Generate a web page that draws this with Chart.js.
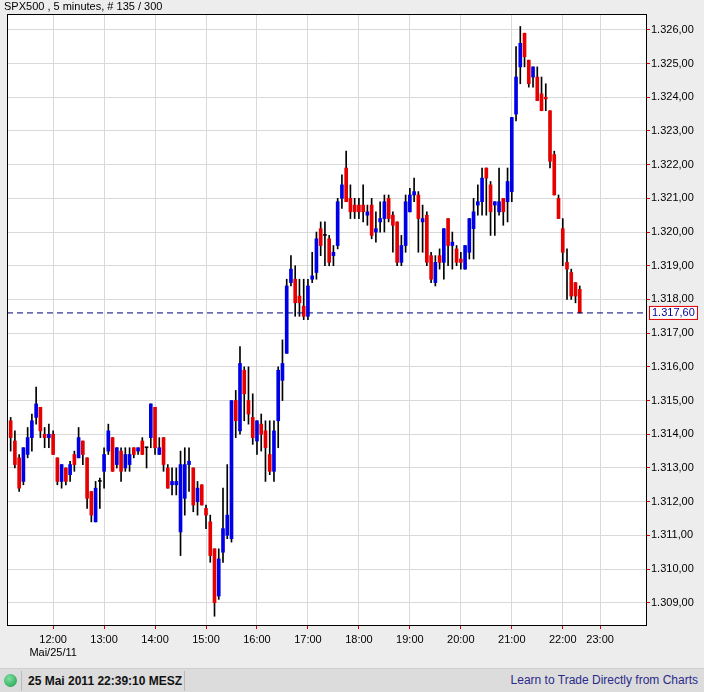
<!DOCTYPE html>
<html><head><meta charset="utf-8">
<script src="https://cdn.jsdelivr.net/npm/chart.js@4"></script>
<style>
body{margin:0;background:#ededed;font-family:"Liberation Sans",Arial,sans-serif;width:704px;height:692px;overflow:hidden;position:relative}
#wrap{position:absolute;left:0;top:0;width:704px;height:668px}
#title{position:absolute;left:4px;top:0px;font-size:11px;color:#000}
#bar{position:absolute;left:0;top:668px;width:704px;height:24px;background:#dcdcdc;border-top:1px solid #cfcfcf}
#dot{position:absolute;left:4px;top:5px;width:13px;height:13px;border-radius:50%;background:radial-gradient(circle at 40% 35%,#7fe0a0,#1a9a4a)}
#sep{position:absolute;left:21px;top:2px;width:1px;height:20px;background:#bbb}
#date{position:absolute;left:28px;top:5px;font-size:12px;font-weight:bold;color:#111}
#sep2{position:absolute;left:184px;top:2px;width:1px;height:20px;background:#bbb}
#learn{position:absolute;right:6px;top:4px;font-size:12px;color:#2a2a8a}
</style></head><body>
<div id="wrap"><canvas id="c" width="704" height="668"></canvas></div>
<div id="title">SPX500 , 5 minutes, # 135 / 300</div>
<div id="bar"><div id="dot"></div><div id="sep"></div><div id="date">25 Mai 2011 22:39:10 MESZ</div><div id="sep2"></div><div id="learn">Learn to Trade Directly from Charts</div></div>
<script>
const startMinute = 670; // 11:10
const stepMinutes = 5;
const opens = [1314.4,1313.8,1313.3,1312.6,1313.4,1313.9,1314.5,1314.8,1314.0,1313.9,1314.0,1313.3,1312.6,1313.0,1312.8,1313.4,1313.3,1313.8,1313.3,1312.3,1311.4,1312.6,1312.9,1313.5,1313.9,1313.1,1313.5,1313.0,1313.1,1313.6,1313.5,1313.8,1313.6,1313.9,1314.8,1313.4,1313.9,1313.0,1312.5,1312.5,1311.1,1312.1,1313.1,1313.0,1312.0,1312.5,1311.8,1311.4,1310.6,1309.2,1310.5,1311.0,1310.9,1315.0,1314.1,1315.9,1315.0,1314.5,1313.8,1314.3,1314.1,1313.4,1312.9,1314.4,1315.6,1316.4,1318.5,1318.6,1318.1,1317.8,1317.5,1318.6,1318.8,1320.1,1319.9,1319.8,1319.3,1319.6,1321.0,1321.9,1321.0,1320.8,1320.8,1320.8,1320.5,1320.8,1320.0,1320.3,1320.4,1321.0,1320.5,1320.3,1319.1,1319.6,1320.6,1321.1,1321.1,1320.3,1320.5,1319.3,1318.5,1319.3,1319.1,1320.4,1319.6,1319.5,1319.2,1318.9,1319.4,1320.1,1320.8,1320.9,1321.9,1321.4,1320.8,1320.6,1321.0,1320.9,1321.2,1323.5,1324.9,1325.9,1325.1,1324.6,1324.6,1324.1,1324.0,1323.6,1322.3,1321.0,1320.1,1319.1,1318.8,1318.5,1318.3];
const closes = [1313.9,1313.1,1312.4,1313.6,1313.9,1314.4,1314.9,1314.1,1313.9,1314.0,1313.4,1312.6,1313.1,1312.6,1313.1,1313.1,1313.9,1313.4,1312.1,1311.6,1312.4,1312.6,1313.4,1314.1,1312.9,1313.6,1312.9,1313.4,1313.4,1313.4,1313.6,1313.4,1313.6,1314.9,1313.6,1313.6,1313.1,1312.4,1312.6,1312.6,1313.1,1313.1,1313.2,1311.9,1312.4,1311.9,1311.6,1310.4,1309.0,1310.3,1311.2,1311.6,1315.0,1314.4,1316.1,1315.2,1314.6,1313.9,1314.4,1314.0,1313.6,1312.9,1314.1,1315.9,1316.1,1318.4,1318.9,1317.9,1317.9,1317.5,1318.4,1318.7,1319.8,1319.6,1319.9,1319.1,1319.4,1320.9,1321.4,1320.9,1320.6,1320.6,1320.6,1320.6,1320.6,1319.9,1320.1,1320.4,1320.9,1320.4,1320.2,1319.1,1319.6,1320.9,1321.1,1321.2,1320.4,1320.4,1319.1,1318.6,1319.1,1319.1,1320.1,1319.6,1319.7,1319.1,1319.1,1319.6,1320.4,1320.6,1320.9,1321.6,1321.6,1320.6,1320.9,1320.9,1320.6,1321.5,1323.4,1324.6,1325.6,1325.2,1324.4,1324.9,1323.9,1323.6,1323.95,1322.1,1321.1,1320.4,1319.4,1318.9,1318.1,1318.1,1317.6];
const highs = [1314.5,1314.1,1313.4,1313.6,1314.2,1314.6,1315.4,1314.8,1314.2,1314.3,1314.1,1313.3,1313.1,1313.0,1313.2,1313.5,1314.2,1313.8,1313.3,1312.3,1312.6,1312.7,1313.6,1314.3,1313.9,1313.6,1313.6,1313.6,1313.6,1313.6,1313.6,1313.9,1313.6,1314.9,1314.8,1313.9,1313.9,1313.1,1313.0,1313.0,1313.5,1313.6,1313.6,1313.0,1312.6,1312.5,1311.9,1311.6,1310.6,1310.6,1312.4,1313.1,1315.0,1315.3,1316.6,1316.0,1316.0,1315.2,1314.4,1314.6,1314.4,1314.4,1314.4,1316.0,1316.8,1318.6,1319.3,1319.0,1318.6,1318.6,1318.6,1319.4,1320.0,1320.3,1320.3,1319.9,1319.6,1321.0,1321.7,1322.4,1321.4,1321.0,1321.0,1321.4,1320.8,1321.0,1320.6,1320.9,1321.1,1321.1,1320.6,1320.3,1319.9,1321.1,1321.3,1321.6,1321.2,1320.8,1320.6,1319.4,1319.3,1319.5,1320.1,1320.4,1320.0,1319.6,1319.4,1319.6,1320.4,1321.0,1321.4,1321.9,1321.9,1321.5,1320.9,1321.9,1321.0,1321.9,1323.4,1325.5,1326.1,1325.9,1325.1,1324.9,1324.9,1324.6,1324.4,1323.6,1322.4,1321.1,1320.4,1319.5,1318.9,1318.5,1318.4];
const lows = [1313.5,1313.0,1312.3,1312.5,1313.3,1313.5,1314.3,1313.9,1313.6,1313.6,1313.4,1312.5,1312.4,1312.5,1312.6,1312.9,1313.3,1313.1,1311.8,1311.4,1311.4,1311.8,1312.4,1313.4,1312.9,1313.0,1312.6,1312.9,1312.9,1313.3,1313.4,1313.4,1313.0,1313.6,1313.4,1313.4,1312.9,1312.4,1312.2,1312.2,1310.4,1311.6,1312.3,1311.7,1311.6,1311.9,1311.2,1310.2,1308.6,1309.1,1310.2,1310.9,1310.8,1313.9,1314.0,1314.4,1314.3,1313.7,1313.4,1313.5,1312.6,1312.8,1312.6,1313.6,1315.0,1316.4,1318.4,1317.5,1317.5,1317.4,1317.4,1318.5,1318.6,1319.3,1319.0,1319.0,1319.0,1319.5,1320.7,1320.9,1320.4,1320.4,1320.4,1320.3,1320.2,1319.8,1319.7,1320.0,1320.0,1320.3,1319.4,1319.0,1319.0,1319.4,1320.6,1320.9,1319.4,1319.4,1319.0,1318.5,1318.4,1318.9,1318.6,1319.0,1318.9,1319.0,1318.9,1318.9,1319.2,1319.2,1320.5,1320.5,1320.5,1319.9,1319.9,1320.5,1320.2,1320.3,1320.9,1323.3,1324.4,1324.9,1324.3,1324.3,1323.9,1323.6,1323.6,1321.9,1321.1,1320.4,1319.0,1318.0,1318.0,1317.9,1317.6];
const lastPrice = 1317.60;
const xTickMinutes = [720,780,840,900,960,1020,1080,1140,1200,1260,1320,1364];
const xTickLabels = ["12:00","13:00","14:00","15:00","16:00","17:00","18:00","19:00","20:00","21:00","22:00","23:00"];

const fmt = v => v.toFixed(2).replace('.',',').replace(/^(\d)(\d{3})/,'$1.$2');
const times = opens.map((_,i)=>startMinute+i*stepMinutes);
const bodies = opens.map((o,i)=>({x:times[i],y:[o,closes[i]]}));
const wicks = opens.map((o,i)=>({x:times[i],y:[lows[i],highs[i]]}));
const colors = opens.map((o,i)=>closes[i]>o?'#0000e6':(closes[i]<o?'#e60000':'#000'));
const X0=665.7, X1=1418;
const frame={id:'frame',afterDraw(ch){const a=ch.chartArea,c=ch.ctx;c.save();c.strokeStyle='#000';c.lineWidth=1;c.strokeRect(a.left+0.5,a.top+0.5,a.right-a.left,a.bottom-a.top);
const y=ch.scales.y.getPixelForValue(lastPrice);c.fillStyle='#fff';c.fillRect(649,y-6,48,13);c.strokeStyle='#e00000';c.strokeRect(649.5,y-6.5,48,13);c.fillStyle='#0000a0';c.font='11px "Liberation Sans",Arial';c.textBaseline='middle';c.fillText(fmt(lastPrice),652,y+0.5);c.restore();},
beforeDraw(ch){const a=ch.chartArea,c=ch.ctx;c.save();c.fillStyle='#fff';c.fillRect(a.left,a.top,a.right-a.left,a.bottom-a.top);c.restore();}};
new Chart(document.getElementById('c'),{
 type:'bar',
 data:{datasets:[
  {type:'line',data:[{x:X0,y:lastPrice},{x:X1,y:lastPrice}],borderColor:'#00007a',borderWidth:1,borderDash:[6,4],pointRadius:0,order:0},
  {data:bodies,backgroundColor:colors,barThickness:3,grouped:false,minBarLength:1,order:1},
  {data:wicks,backgroundColor:'#000',barThickness:1,grouped:false,order:2}
 ]},
 options:{responsive:false,animation:false,maintainAspectRatio:false,
  layout:{padding:{left:7,top:14,right:0,bottom:0}},
  plugins:{legend:{display:false},tooltip:{enabled:false}},
  scales:{
   x:{type:'linear',min:X0,max:X1,offset:false,
     afterBuildTicks:s=>{s.ticks=xTickMinutes.map(v=>({value:v}));},
     afterFit:s=>{s.height=43;},
     grid:{color:'#d9d9d9',tickColor:'#e00000',tickLength:4,offset:false},border:{color:'#000'},
     ticks:{autoSkip:false,maxRotation:0,color:'#000',font:{family:'"Liberation Sans",Arial',size:11},padding:4,
       callback:(v,i)=>i===0?[xTickLabels[0],'Mai/25/11']:xTickLabels[i]}},
   y:{position:'right',min:1308.34,max:1326.47,
     afterBuildTicks:s=>{const t=[];for(let v=1309;v<=1326;v++)t.push({value:v});s.ticks=t;},
     afterFit:s=>{s.width=58;},
     grid:{color:'#d9d9d9',tickColor:'#e00000',tickLength:4},border:{color:'#000'},
     ticks:{color:'#000',font:{family:'"Liberation Sans",Arial',size:11},padding:1,callback:v=>fmt(v)}}
  }},
 plugins:[frame]
});
</script></body></html>
